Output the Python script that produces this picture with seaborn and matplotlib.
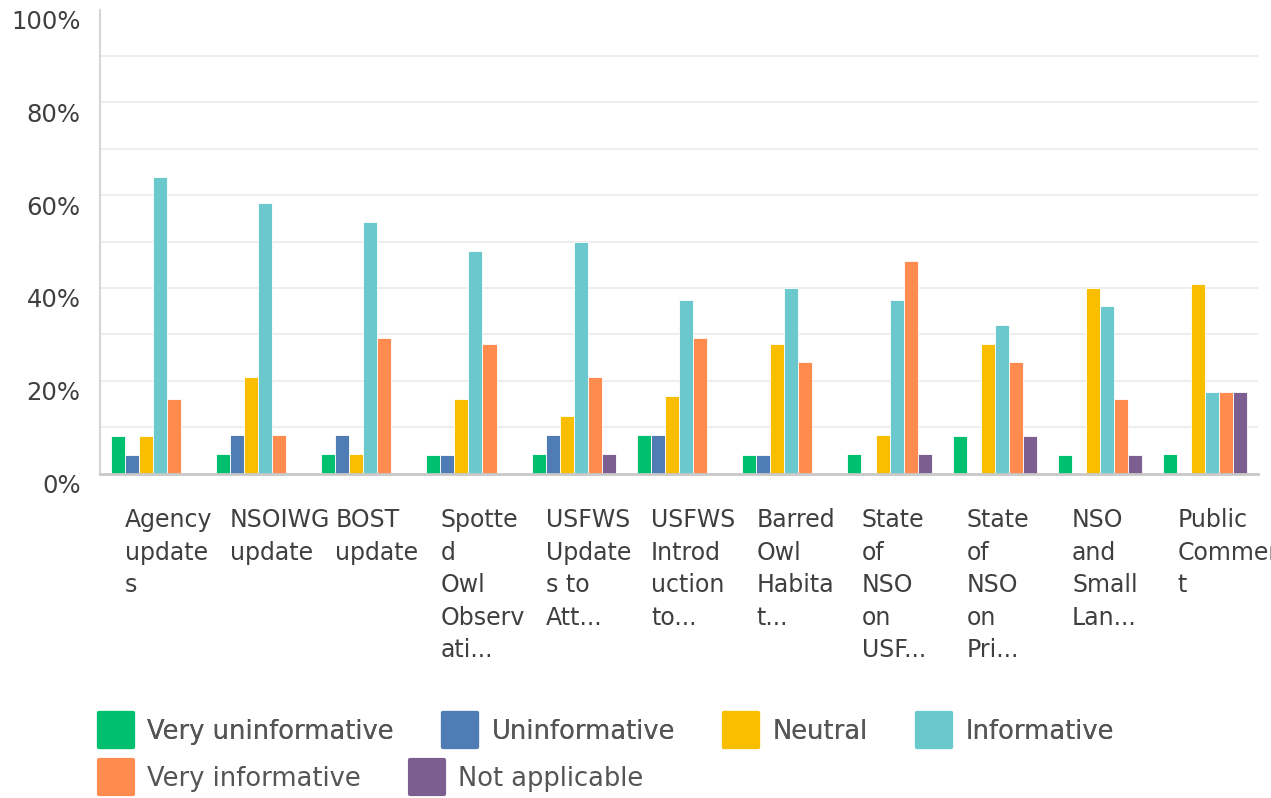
import matplotlib
import matplotlib.pyplot as plt
import matplotlib.transforms as mtransforms
import pandas as pd
import seaborn as sns
from matplotlib.lines import Line2D
from matplotlib.markers import MarkerStyle

matplotlib.use("Agg")

# --- data (percent of respondents) ---
topics = [
    "Agency updates", "NSOIWG update", "BOST update", "Spotted Owl Observati...",
    "USFWS Updates to Att...", "USFWS Introduction to...", "Barred Owl Habitat...",
    "State of NSO on USF...", "State of NSO on Pri...", "NSO and Small Lan...",
    "Public Comment",
]
tick_labels = [
    "Agency\nupdate\ns", "NSOIWG\nupdate", "BOST\nupdate",
    "Spotte\nd\nOwl\nObserv\nati...", "USFWS\nUpdate\ns to\nAtt...",
    "USFWS\nIntrod\nuction\nto...", "Barred\nOwl\nHabita\nt...",
    "State\nof\nNSO\non\nUSF...", "State\nof\nNSO\non\nPri...",
    "NSO\nand\nSmall\nLan...", "Public\nCommen\nt",
]
ratings = ["Very uninformative", "Uninformative", "Neutral", "Informative",
           "Very informative", "Not applicable"]

very_uninformative = [8.0, 4.2, 4.2, 4.0, 4.2, 8.3, 4.0, 4.2, 8.0, 4.0, 4.3]
uninformative = [4.0, 8.3, 8.3, 4.0, 8.3, 8.3, 4.0, 0, 0, 0, 0]
neutral = [8.0, 20.8, 4.2, 16.0, 12.5, 16.7, 28.0, 8.3, 28.0, 40.0, 40.8]
informative = [64.0, 58.3, 54.2, 48.0, 50.0, 37.5, 40.0, 37.5, 32.0, 36.0, 17.6]
very_informative = [16.0, 8.3, 29.2, 28.0, 20.8, 29.2, 24.0, 45.8, 24.0, 16.0, 17.6]
not_applicable = [0, 0, 0, 0, 4.2, 0, 0, 4.2, 8.0, 4.0, 17.6]

colors = ["#00BF6F", "#507CB6", "#F9BE00", "#6BC8CD", "#FF8B4F", "#7D5E90"]

series = [very_uninformative, uninformative, neutral, informative,
          very_informative, not_applicable]
rows = []
for rating, values in zip(ratings, series):
    for topic, v in zip(topics, values):
        rows.append({"topic": topic, "rating": rating, "value": v})
df = pd.DataFrame(rows)

text_color = "#3f3f3f"

sns.set_theme(style="white")
plt.rcParams["font.family"] = ["DejaVu Sans"]

fig = plt.figure(figsize=(12.71, 7.98), dpi=100)
ax = fig.add_axes([100 / 1271, 1 - 473.5 / 798, 1158 / 1271, 464 / 798])

sns.barplot(data=df, x="topic", y="value", hue="rating", order=topics,
            hue_order=ratings, palette=colors, saturation=1, width=0.8,
            errorbar=None, edgecolor="white", linewidth=0.6, legend=False, ax=ax)

ax.set_xlim(-0.5, len(topics) - 0.5)
ax.set_ylim(0, 100)
ax.set_xlabel("")
ax.set_ylabel("")

# y axis: labels every 20%, light grid every 10% (none at the top edge)
ax.set_yticks(range(0, 101, 20))
ax.set_yticklabels([f"{v}%" for v in range(0, 101, 20)], fontsize=17.5, color=text_color)
ax.yaxis.remove_overlapping_locs = False
ax.set_yticks(range(10, 100, 10), minor=True)
ax.yaxis.grid(True, which="minor", color="#ececec", linewidth=1.3)
ax.yaxis.grid(False, which="major")
ax.tick_params(axis="y", which="both", length=0, pad=14)
offset_y = mtransforms.ScaledTranslation(0, -10 / 100, fig.dpi_scale_trans)
for lbl in ax.get_yticklabels():
    lbl.set_transform(lbl.get_transform() + offset_y)

# x axis: wrapped, left aligned category labels
ax.set_xticks(range(len(topics)))
ax.set_xticklabels(tick_labels, fontsize=17, color=text_color, ha="left",
                   linespacing=1.45)
ax.tick_params(axis="x", length=0, pad=25)
offset_x = mtransforms.ScaledTranslation(-28 / 100, 0, fig.dpi_scale_trans)
for lbl in ax.get_xticklabels():
    lbl.set_transform(lbl.get_transform() + offset_x)

for side in ["top", "right"]:
    ax.spines[side].set_visible(False)
ax.spines["left"].set_color("#d6d6d6")
ax.spines["left"].set_linewidth(1.5)
ax.spines["bottom"].set_color("#c8c8c8")
ax.spines["bottom"].set_linewidth(2)

# legend: two flowing rows with rounded square swatches
marker = MarkerStyle("s", joinstyle="round")
handles = [Line2D([], [], linestyle="none", marker=marker, markersize=24,
                  markerfacecolor=c, markeredgecolor=c, markeredgewidth=3)
           for c in colors]
legend_kw = dict(frameon=False, fontsize=18.5, handlelength=1.45, handletextpad=0.5,
                 columnspacing=1.85, borderpad=0, borderaxespad=0, loc="center left",
                 labelcolor="#555555")
leg1 = fig.legend(handles[:4], ratings[:4], ncol=4,
                  bbox_to_anchor=(97 / 1271, 1 - 732 / 798), **legend_kw)
fig.add_artist(leg1)
fig.legend(handles[4:], ratings[4:], ncol=2,
           bbox_to_anchor=(97 / 1271, 1 - 779 / 798), **legend_kw)

fig.savefig("out.png", dpi=100)
plt.close(fig)
